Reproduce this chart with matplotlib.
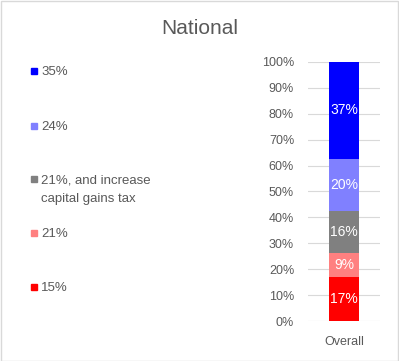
import matplotlib.pyplot as plt
from matplotlib.patches import Rectangle
from matplotlib.ticker import PercentFormatter

# stacked shares for the single "Overall" bar, bottom to top
labels = ['15%', '21%', '21%, and increase\ncapital gains tax', '24%', '35%']
values = [17.0, 9.1, 16.2, 20.4, 37.3]
colors = ['#FF0000', '#FF8080', '#808080', '#8080FF', '#0000FF']
category = ['Overall']

plt.rcParams['font.family'] = ['Liberation Sans', 'DejaVu Sans']
txt = '#595959'

fig = plt.figure(figsize=(3.99, 3.61), dpi=100)
W, H = 399, 361
ax = fig.add_axes([308 / W, (H - 321) / H, 72 / W, 259 / H])

bottom = 0
for v, c in zip(values, colors):
    bars = ax.bar(category, [v], bottom=bottom, width=0.43, color=c, zorder=3)
    ax.bar_label(bars, labels=[f'{v:.0f}%'], label_type='center',
                 color='white', fontsize=10)
    bottom += v

ax.set_xlim(-0.5, 0.5)
ax.set_ylim(0, 100)
ax.set_yticks(range(0, 101, 10))
ax.yaxis.set_major_formatter(PercentFormatter(decimals=0))
ax.grid(axis='y', color='#D9D9D9', lw=0.8, zorder=0)
for s in ax.spines.values():
    s.set_visible(False)
ax.tick_params(axis='y', length=0, pad=10, labelsize=9, labelcolor=txt)
ax.tick_params(axis='x', length=0, pad=11, labelsize=9, labelcolor=txt)

fig.text(200 / W, 1 - 28 / H, 'National', ha='center', va='center',
         fontsize=15, color=txt)

# manual legend on the left (top to bottom: 35% ... 15%)
rows_y = [289, 235, 181, 128, 73]
for lab, c, y in zip(labels, colors, rows_y):
    fig.patches.append(Rectangle((31 / W, 1 - (y + 1) / H), 6 / W, 6 / H,
                                 transform=fig.transFigure, color=c))
    fig.text(41 / W, 1 - (y - 7) / H, lab, ha='left', va='top',
             fontsize=9.5, color=txt, linespacing=1.8)

# chart border
fig.patches.append(Rectangle((0.5 / W, 0.5 / H), 1 - 1.5 / W, 1 - 1.5 / H,
                             transform=fig.transFigure, fill=False,
                             edgecolor='#D9D9D9', lw=1))

fig.savefig('out.png', dpi=100)
